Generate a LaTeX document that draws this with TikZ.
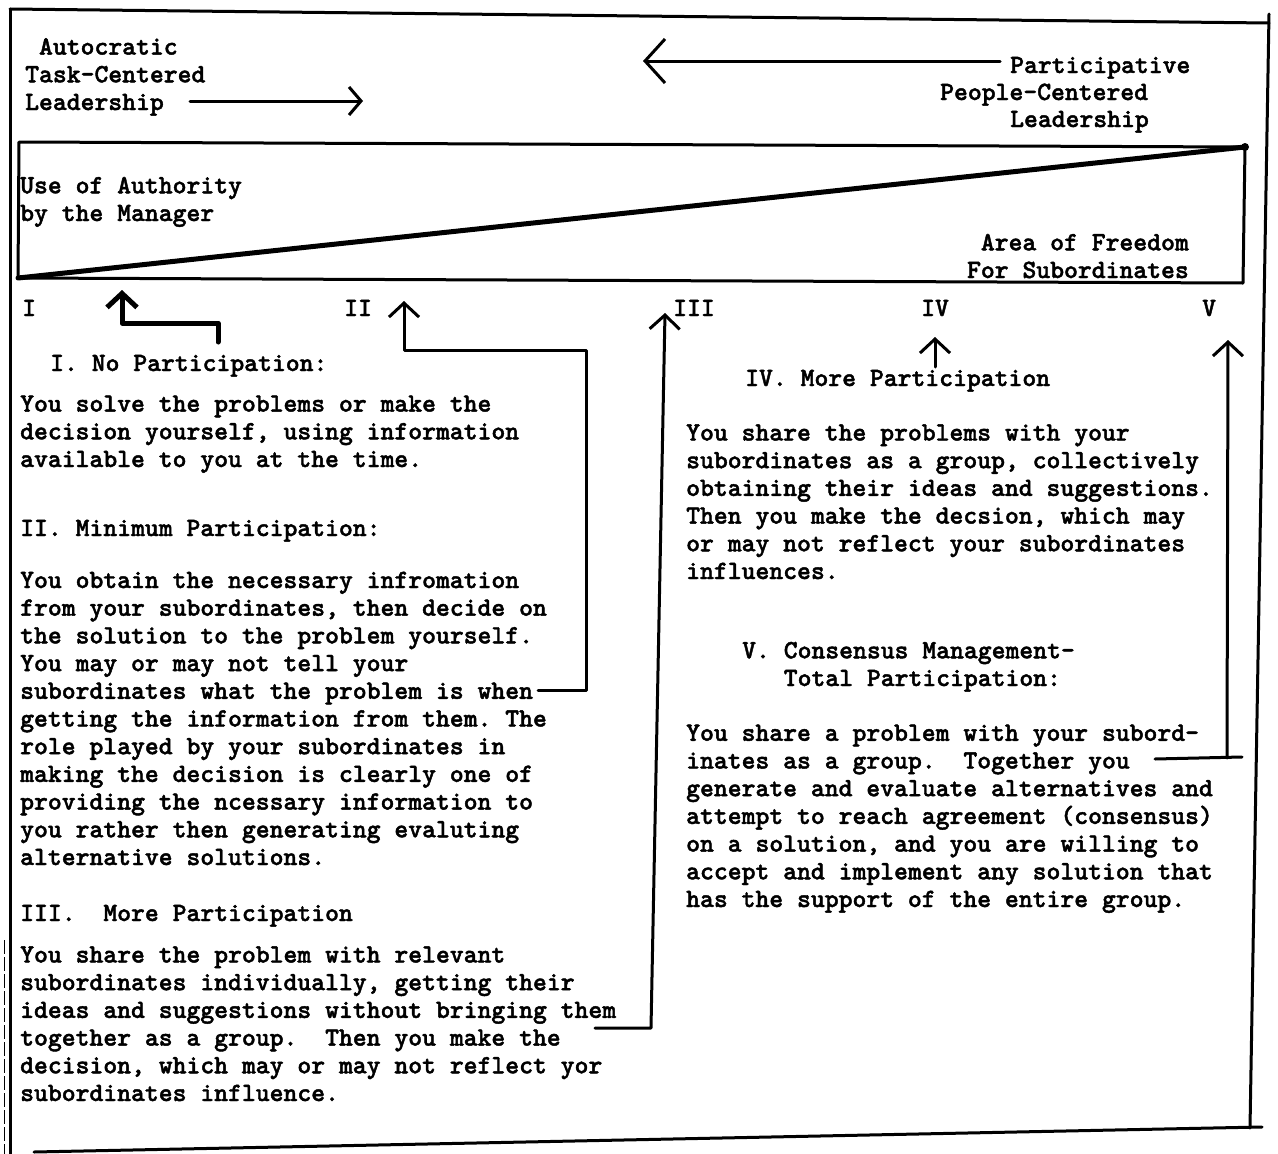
\documentclass[tikz,border=0pt]{standalone}
\usepackage{fontspec}
\usetikzlibrary{arrows.meta}
\newfontfamily\typewriter{lmmonolt10-bold.otf}[FakeBold=1.6]
\newcommand\typefont{\fontsize{26.4}{27.7}\selectfont\typewriter\frenchspacing}
% multi-line nodes are placed by the baseline of their last line
\tikzset{
  txt/.style={font=\typefont, inner sep=0pt, anchor=base west, align=left, yshift=-2pt},
  rtxt/.style={font=\typefont, inner sep=0pt, anchor=base east, align=right, yshift=-2pt},
  frame/.style={line width=3pt, line cap=round, line join=round},
  conn/.style={line width=3pt, line cap=round, line join=round,
    -{Straight Barb[length=14pt,width=30pt]}},
}
\begin{document}
\begin{tikzpicture}[x=1pt,y=-1pt]
\useasboundingbox (0,0) rectangle (1278,1154);
\fill[white] (0,0) rectangle (1278,1154);

% outer frame
\coordinate (otl) at (10,9);
\coordinate (otr) at (1269,23);
\coordinate (obr) at (1250,1128);
\coordinate (obre) at (1262,1127);
\coordinate (obl) at (34,1152);
\coordinate (olb) at (10,1154);
\draw[frame] (otl) -- (otr);
\draw[frame] (otl) -- (olb);
\draw[frame] (1269,14) -- (obr);
\draw[frame] (obl) -- (obre);
\draw[line width=1pt, dash pattern=on 14pt off 3pt] (4,940) -- (4,1154);

% scale box: authority vs. freedom
\coordinate (btl) at (19,142);
\coordinate (btr) at (1245,147);
\coordinate (bbl) at (18,278);
\coordinate (bbr) at (1243,283);
\draw[frame] (btl) -- (btr) -- (bbr) -- (bbl) -- cycle;
\draw[line width=5pt, line cap=round] (bbl) -- (btr);
\fill (btr) circle (4pt);

% headings
\node[txt] (auto) at (25,108) {\phantom{A}Autocratic\\Task-Centered\\Leadership};
\node[txt] (part1) at (1010,71) {Participative};
\node[txt] (part2) at (940,98) {People-Centered};
\node[txt] (part3) at (1010,125) {Leadership};
\coordinate (ra) at (190,101);
\coordinate (rb) at (363,101);
\draw[frame, -{Straight Barb[length=12pt,width=28pt]}] (ra) -- (rb);
\coordinate (la) at (1000,61);
\coordinate (lb) at (643,61);
\draw[frame, -{Straight Barb[length=20pt,width=44pt]}] (la) -- (lb);

\node[txt] (auth) at (20,219) {Use of Authority\\by the Manager};
\node[rtxt] (free) at (1189,276) {Area of Freedom\\For Subordinates};

% scale positions
\node[txt] (n1) at (22,314) {I};
\node[txt] (n2) at (344,314) {II};
\node[txt] (n3) at (673,314) {III};
\node[txt] (n4) at (921,314) {IV};
\node[txt] (n5) at (1202,314) {V};

% descriptions
\node[txt] (h1) at (50,369) {I. No Participation:};
\node[txt] (p1) at (20,465) {You solve the problems or make the\\
decision yourself, using information\\
available to you at the time.};
\node[txt] (h2) at (20,534) {II. Minimum Participation:};
\node[txt] (p2) at (20,863) {You obtain the necessary infromation\\
from your subordinates, then decide on\\
the solution to the problem yourself.\\
You may or may not tell your\\
subordinates what the problem is when\\
getting the information from them. The\\
role played by your subordinates in\\
making the decision is clearly one of\\
providing the ncessary information to\\
you rather then generating evaluting\\
alternative solutions.};
\node[txt] (h3) at (20,919) {III.\ \ More Participation};
\node[txt] (p3) at (20,1099) {You share the problem with relevant\\
subordinates individually, getting their\\
ideas and suggestions without bringing them\\
together as a group.\ \ Then you make the\\
decision, which may or may not reflect yor\\
subordinates influence.};
\node[txt] (h4) at (745,384) {IV. More Participation};
\node[txt] (p4) at (686,577) {You share the problems with your\\
subordinates as a group, collectively\\
obtaining their ideas and suggestions.\\
Then you make the decsion, which may\\
or may not reflect your subordinates\\
influences.};
\node[txt] (h5) at (742,684) {V. Consensus Management-\\
\phantom{V. }Total Participation:};
\node[txt] (p5) at (686,905) {You share a problem with your subord-\\
inates as a group.\ \ Together you\\
generate and evaluate alternatives and\\
attempt to reach agreement (consensus)\\
on a solution, and you are willing to\\
accept and implement any solution that\\
has the support of the entire group.};

% connectors from each description to its scale position
\coordinate (a1a) at (218,342);
\coordinate (a1b) at (218,323);
\coordinate (a1c) at (122,323);
\coordinate (a1d) at (122,290);
\draw[conn, line width=5pt] (a1a) -- (a1b) -- (a1c) -- (a1d);

\coordinate (a2a) at (538,690);
\coordinate (a2b) at (586,690);
\coordinate (a2c) at (586,350);
\coordinate (a2d) at (404,350);
\coordinate (a2e) at (404,301);
\draw[conn] (a2a) -- (a2b) -- (a2c) -- (a2d) -- (a2e);

\coordinate (a3a) at (595,1028);
\coordinate (a3b) at (651,1028);
\coordinate (a3c) at (665,313);
\draw[conn] (a3a) -- (a3b) -- (a3c);

\coordinate (a4a) at (935,367);
\coordinate (a4b) at (935,337);
\draw[conn] (a4a) -- (a4b);

\coordinate (a5a) at (1155,759);
\coordinate (a5b) at (1242,757);
\coordinate (a5c) at (1227,758);
\coordinate (a5d) at (1228,340);
\draw[frame] (a5a) -- (a5b);
\draw[conn] (a5c) -- (a5d);
\end{tikzpicture}
\end{document}
